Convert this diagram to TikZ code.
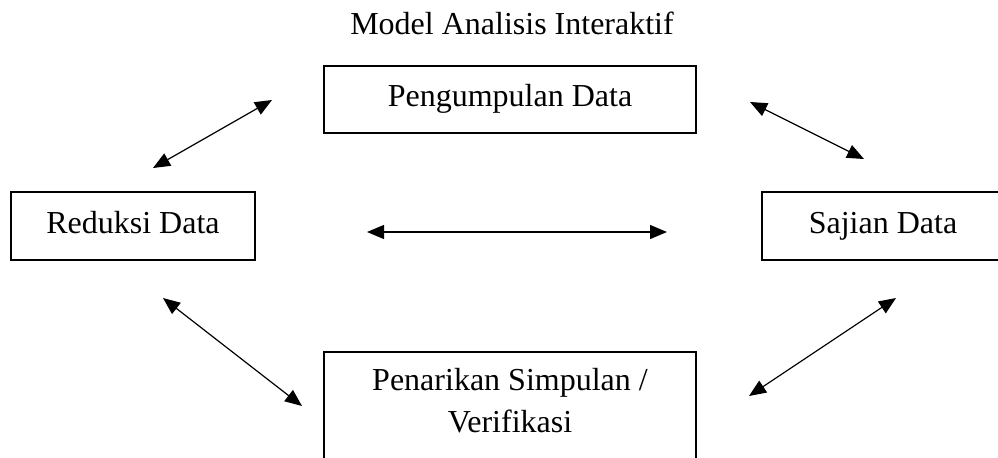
\documentclass[tikz,border=0pt]{standalone}
\usepackage{fontspec}
\setmainfont{Liberation Serif}
\usetikzlibrary{arrows.meta}
\begin{document}
\begin{tikzpicture}[x=0.5pt,y=-0.5pt,
  lbl/.style={font=\fontsize{16}{21}\selectfont, inner sep=0pt},
  box/.style={lbl, draw, line width=1.2pt, text height=11pt, text depth=4pt},
  frame/.style={draw, line width=1.2pt, inner sep=0pt},
  dbl/.style={{Triangle[length=8.5pt,width=7pt]}-{Triangle[length=8.5pt,width=7pt]}, line width=0.6pt}]
\useasboundingbox (0,0) rectangle (998,457);
\clip (0,0) rectangle (998,457);
\node[lbl, anchor=base] (title) at (512,34) {Model Analisis Interaktif};
\node[box, minimum width=186pt, minimum height=33.5pt] (peng) at (510,99.5) {Pengumpulan Data};
\node[box, minimum width=122pt, minimum height=34pt] (red) at (133,226) {Reduksi Data};
\node[box, minimum width=121pt, minimum height=34pt] (saj) at (883,226) {Sajian Data};
\node[frame, minimum width=186pt, minimum height=62pt, anchor=north] (pen) at (510,351) {};
\node[lbl, align=center, anchor=north] (pentext) at ([yshift=-8.5pt]pen.north) {Penarikan Simpulan /\\Verifikasi};
\coordinate (a1s) at (153,168);
\coordinate (a1e) at (272,100);
\coordinate (a2s) at (750,102);
\coordinate (a2e) at (864,159);
\coordinate (hs) at (367,232);
\coordinate (he) at (667,232);
\coordinate (a3s) at (163,298);
\coordinate (a3e) at (302,406);
\coordinate (a4s) at (896,298);
\coordinate (a4e) at (749,396);
\draw[dbl] (a1s) -- (a1e);
\draw[dbl] (a2s) -- (a2e);
\draw[dbl] (hs) -- (he);
\draw[dbl] (a3s) -- (a3e);
\draw[dbl] (a4s) -- (a4e);
\end{tikzpicture}
\end{document}
